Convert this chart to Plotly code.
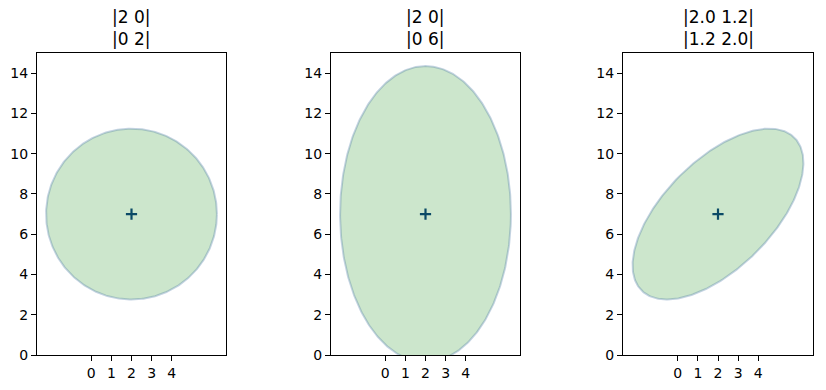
import numpy as np
import plotly.graph_objects as go

# Data
titles = ["|2 0|<br>|0 2|", "|2 0|<br>|0 6|", "|2.0 1.2|<br>|1.2 2.0|"]
mean = [2, 7]
covs = [
    [[2.0, 0.0], [0.0, 2.0]],
    [[2.0, 0.0], [0.0, 6.0]],
    [[2.0, 1.2], [1.2, 2.0]],
]
n_std = 3
x_ticks = [0, 1, 2, 3, 4]
y_ticks = [0, 2, 4, 6, 8, 10, 12, 14]

W, H = 826, 390
x_px = [(37, 226), (331, 520), (623, 813)]
y_px = (53, 355)
y_range = [0, 15]
scale = (y_px[1] - y_px[0]) / (y_range[1] - y_range[0])

FONT = "DejaVu Sans"
fig = go.Figure()

t = np.linspace(0, 2 * np.pi, 400)
for i, cov in enumerate(covs):
    c = np.array(cov)
    vals, vecs = np.linalg.eigh(c)
    circ = np.vstack([np.cos(t), np.sin(t)])
    pts = vecs @ (np.sqrt(vals)[:, None] * n_std * circ)
    ex = pts[0] + mean[0]
    ey = pts[1] + mean[1]
    xa = "x" if i == 0 else f"x{i+1}"
    ya = "y" if i == 0 else f"y{i+1}"
    fig.add_trace(go.Scatter(
        x=ex, y=ey, mode="lines", fill="toself",
        fillcolor="rgba(0,128,0,0.2)",
        line=dict(color="rgba(60,110,160,0.3)", width=2),
        xaxis=xa, yaxis=ya, showlegend=False, hoverinfo="skip"))
    fig.add_trace(go.Scatter(
        x=[mean[0]], y=[mean[1]], mode="markers",
        marker=dict(symbol="cross-thin", size=8, line=dict(color="#0b4a66", width=2.2)),
        xaxis=xa, yaxis=ya, showlegend=False, hoverinfo="skip"))

layout = dict(
    width=W, height=H, margin=dict(l=0, r=0, t=0, b=0),
    paper_bgcolor="white", plot_bgcolor="white",
    font=dict(family=FONT, size=14, color="black"),
)
annotations = []
for i, (x0, x1) in enumerate(x_px):
    wunits = (x1 - x0) / scale
    cx = mean[0]
    xr = [cx - wunits / 2, cx + wunits / 2]
    suffix = "" if i == 0 else str(i + 1)
    axcommon = dict(showline=True, linecolor="black", linewidth=1.1, mirror=True,
                    showgrid=False, zeroline=False, ticks="outside", ticklen=5,
                    tickwidth=1.1, tickcolor="black", automargin=False,
                    tickfont=dict(family=FONT, size=14, color="black"))
    layout["xaxis" + suffix] = dict(
        domain=[x0 / W, x1 / W], range=xr, tickmode="array", tickvals=x_ticks,
        anchor="y" + suffix, **axcommon)
    layout["yaxis" + suffix] = dict(
        domain=[(H - y_px[1]) / H, (H - y_px[0]) / H], range=y_range,
        tickmode="array", tickvals=y_ticks, anchor="x" + suffix, **axcommon)
    annotations.append(dict(
        text=titles[i], x=(x0 + x1) / 2 / W, y=(H - y_px[0] + 2) / H,
        xref="paper", yref="paper", xanchor="center", yanchor="bottom",
        showarrow=False, font=dict(family=FONT, size=17, color="black")))
layout["annotations"] = annotations
fig.update_layout(**layout)
fig.write_html("out.html")
